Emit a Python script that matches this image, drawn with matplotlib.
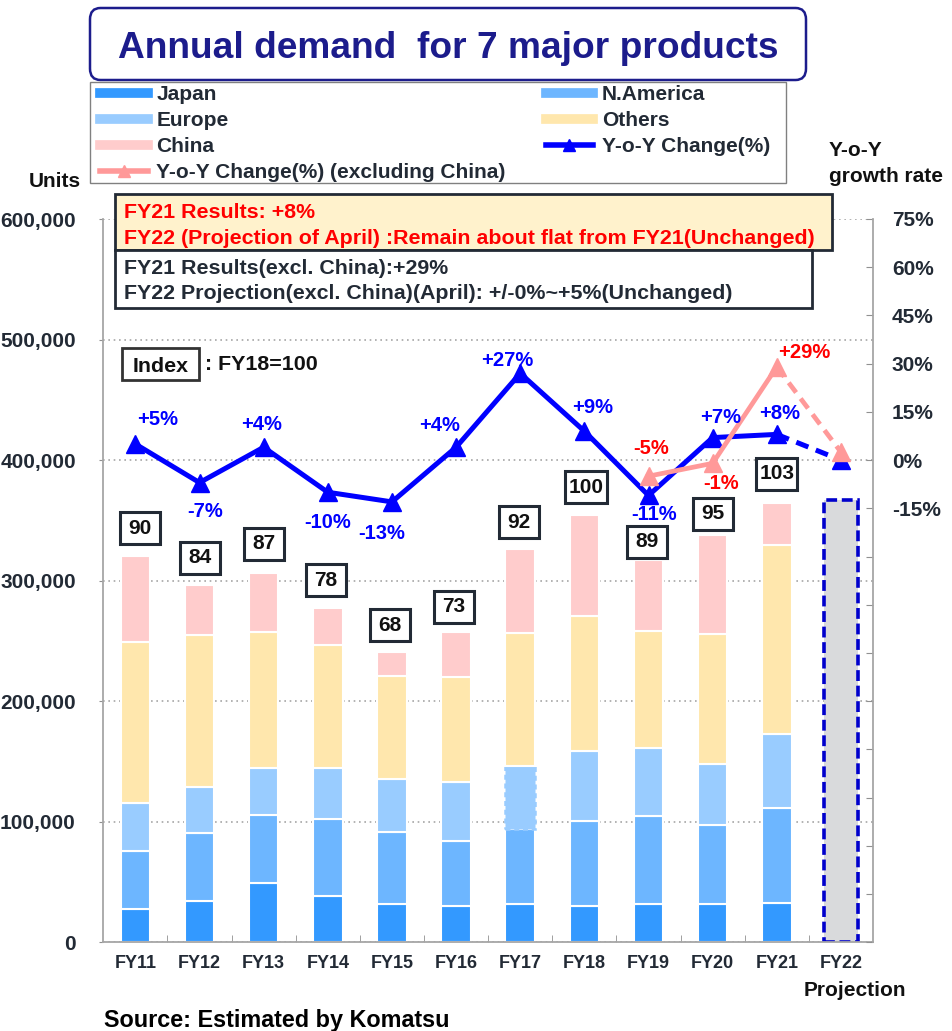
import matplotlib
matplotlib.use('Agg')
import matplotlib.pyplot as plt
from matplotlib.patches import Rectangle, FancyBboxPatch
from matplotlib.lines import Line2D
from matplotlib.path import Path
from matplotlib.ticker import FuncFormatter, FixedLocator
import numpy as np

plt.rcParams['font.family'] = ['Liberation Sans', 'DejaVu Sans']
plt.rcParams['font.weight'] = 'bold'

# ---------------- data ----------------
years = ['FY11', 'FY12', 'FY13', 'FY14', 'FY15', 'FY16', 'FY17', 'FY18',
         'FY19', 'FY20', 'FY21', 'FY22']
japan = [27400, 34500, 49000, 38700, 31500, 30100, 31800, 30400, 32000, 31800, 32400]
n_america = [48100, 56500, 56900, 63900, 60300, 54000, 62000, 70300, 72600, 65300, 78800]
europe = [40100, 37900, 39000, 41800, 43700, 48700, 52800, 58300, 56600, 50600, 61900]
others = [133400, 125900, 112400, 102100, 85200, 87600, 110100, 111500, 96900, 108200, 156600]
china = [71300, 41700, 49400, 30900, 20000, 36900, 69700, 84100, 58900, 82100, 35100]
projection_fy22 = 366500
index_fy18 = [90, 84, 87, 78, 68, 73, 92, 100, 89, 95, 103]
yoy = [5, -7, 4, -10, -13, 4, 27, 9, -11, 7, 8, 0]
yoy_ex_china_years = ['FY19', 'FY20', 'FY21', 'FY22']
yoy_ex_china = [-5, -1, 29, 2.5]

# ---------------- styles ----------------
W, H = 952, 1031
C_JP, C_NA, C_EU, C_OT, C_CN = '#3399FF', '#6DB6FF', '#99CCFF', '#FFE7AD', '#FFCCCC'
C_BLUE, C_PINK = '#0000FF', '#FF9999'
TXT = '#222A35'
GRID = '#A6A6A6'

def fx(x):
    return x / W

def fy(y):
    return 1 - y / H

fig = plt.figure(figsize=(W / 100, H / 100), dpi=100)
ax = fig.add_axes([fx(103.3), fy(942.3), (873 - 103.3) / W, (942.3 - 219) / H])
ax2 = ax.twinx()

x = np.arange(len(years))
xa = x[:len(japan)]
bw = 0.46
series = [(japan, C_JP), (n_america, C_NA), (europe, C_EU), (others, C_OT), (china, C_CN)]
bottom = np.zeros(len(japan))
containers = []
for vals, col in series:
    bc = ax.bar(xa, vals, bw, bottom=bottom, color=col, edgecolor='white',
                linewidth=1.5, zorder=2)
    containers.append(bc)
    bottom = bottom + np.array(vals)
totals = bottom
# FY17 Europe segment drawn with dotted outline
p = containers[2].patches[6]
p.set_edgecolor(C_EU)
p.set_linestyle((0, (2, 1.5)))
p.set_linewidth(1.8)

ax.bar(x[11], projection_fy22, 0.52, color='#D9DADC', edgecolor='#0000CC',
       linewidth=2.6, linestyle=(0, (3, 1.3)), zorder=2)

ax.set_xlim(-0.5, 11.5)
ax.set_ylim(0, 600000)
ax.set_yticks(np.arange(0, 600001, 100000))
ax.yaxis.set_major_formatter(FuncFormatter(lambda v, p: f'{int(v):,}'))
ax.yaxis.grid(True, linestyle=(0, (1, 2.2)), color=GRID, linewidth=1.2)
ax.set_axisbelow(True)
ax.set_xticks(x)
ax.set_xticklabels(years)
ax.xaxis.set_minor_locator(FixedLocator(np.arange(0.5, 11, 1)))
ax.tick_params(axis='x', which='major', length=0, pad=9.5, labelsize=13, labelcolor=TXT)
ax.tick_params(axis='x', which='minor', direction='in', length=5, color='#909090')
ax.tick_params(axis='y', direction='out', length=3, color='#909090', pad=16.8,
               labelsize=15, labelcolor=TXT)
for s in ['top', 'right']:
    ax.spines[s].set_visible(False)
for s in ['left', 'bottom']:
    ax.spines[s].set_color(GRID)
    ax.spines[s].set_linewidth(1.3)

ax2.set_ylim(-150, 75)
ax2.set_yticks(np.arange(-150, 76, 15))
ax2.yaxis.set_major_formatter(FuncFormatter(lambda v, p: f'{v:.0f}%' if v >= -15 else ''))
ax2.tick_params(axis='y', direction='in', length=5, color='#909090', pad=13.5,
                labelsize=15, labelcolor=TXT)
for s in ['top', 'left', 'bottom']:
    ax2.spines[s].set_visible(False)
ax2.spines['right'].set_color(GRID)
ax2.spines['right'].set_linewidth(1.3)

# YoY lines
ax2.plot(x[:11], yoy[:11], color=C_BLUE, lw=3.6, marker='^', ms=13, zorder=3)
ax2.plot(x[10:], yoy[10:], color=C_BLUE, lw=3.6, ls=(0, (2.6, 1.6)), zorder=3)
ax2.plot(x[11], yoy[11], color=C_BLUE, marker='^', ms=13, zorder=3)
ex_idx = [years.index(y) for y in yoy_ex_china_years]
ax2.plot(ex_idx[:3], yoy_ex_china[:3], color=C_PINK, lw=3.4, marker='^', ms=13, zorder=4)
ax2.plot(ex_idx[2:], yoy_ex_china[2:], color=C_PINK, lw=3.4, ls=(0, (2.6, 1.6)), zorder=4)
ax2.plot(ex_idx[3], yoy_ex_china[3], color=C_PINK, marker='^', ms=13, zorder=4)

# value labels for YoY
blue_off = [(16, 18), (4, -21), (-1.4, 16.2), (0, -22), (-7.3, -23), (-12, 15.8),
            (-9, 9), (6, 17.3), (4, -14), (6, 14.8), (2.2, 14.9)]
for i in range(11):
    ax2.annotate(f'{yoy[i]:+d}%', xy=(x[i], yoy[i]), xytext=blue_off[i],
                 textcoords='offset points', ha='center', va='center',
                 color=C_BLUE, fontsize=14.5, fontweight='bold', zorder=6)
pink_off = [(1.9, 19.7), (6.3, -14.7), (20, 10.3)]
for k in range(3):
    ax2.annotate(f'{yoy_ex_china[k]:+d}%', xy=(ex_idx[k], yoy_ex_china[k]),
                 xytext=pink_off[k], textcoords='offset points', ha='center',
                 va='center', color='#FF0000', fontsize=14.5, fontweight='bold', zorder=6)

# index boxes with fixed size
def fixed_box(x0, y0, width, height, mutation_size):
    cx, cy = x0 + width / 2, y0 + height / 2
    w = max(width + 0.3 * mutation_size, 1.92 * mutation_size)
    h = 1.54 * mutation_size
    verts = [(cx - w / 2, cy - h / 2), (cx + w / 2, cy - h / 2),
             (cx + w / 2, cy + h / 2), (cx - w / 2, cy + h / 2),
             (cx - w / 2, cy - h / 2)]
    return Path(verts, closed=True)

idx_off = [(3.6, 20.2), (0, 19.4), (0, 20.7), (-1.2, 19.8), (-1.4, 19.4), (-1.4, 18.2),
           (-1.2, 19.1), (1.2, 20), (-1.4, 13.4), (0, 15.3), (0, 20.6)]
for i in range(11):
    ax.annotate(str(index_fy18[i]), xy=(x[i], totals[i]), xytext=idx_off[i],
                textcoords='offset points', ha='center', va='center', fontsize=15,
                fontweight='bold', color='#111111', zorder=7,
                bbox=dict(boxstyle=fixed_box, fc='white', ec=TXT, lw=2.2))

# ---------------- title ----------------
fig.patches.append(FancyBboxPatch((fx(90), fy(80)), (806 - 90) / W, 72 / H,
                                  boxstyle='round,pad=0,rounding_size=0.011',
                                  fc='white', ec='#1C1C8C', lw=1.8,
                                  transform=fig.transFigure, figure=fig))
fig.text(fx(448), fy(49), 'Annual demand  for 7 major products', ha='center',
         va='center', fontsize=26.7, fontweight='bold', color='#1C1C8C')

# ---------------- legend ----------------
fig.patches.append(Rectangle((fx(90), fy(183)), 696 / W, 101 / H, fc='white',
                             ec='#808080', lw=1.0, transform=fig.transFigure, figure=fig))
handles = [Line2D([], [], color=C_JP, lw=7), Line2D([], [], color=C_EU, lw=7),
           Line2D([], [], color=C_CN, lw=7),
           Line2D([], [], color=C_PINK, lw=4, marker='^', ms=8),
           Line2D([], [], color=C_NA, lw=7), Line2D([], [], color=C_OT, lw=7),
           Line2D([], [], color=C_BLUE, lw=4, marker='^', ms=8)]
labels = ['Japan', 'Europe', 'China', 'Y-o-Y Change(%) (excluding China)',
          'N.America', 'Others', 'Y-o-Y Change(%)']
leg = fig.legend(handles, labels, loc='upper left', ncol=2, mode='expand',
                 bbox_to_anchor=(fx(100), fy(85), 670 / W, 0),
                 borderaxespad=0, frameon=False,
                 prop={'size': 15, 'weight': 'bold'},
                 handlelength=2.3, handletextpad=0.4, labelspacing=0.34,
                 borderpad=0, columnspacing=1.0, labelcolor=TXT)

# ---------------- side labels ----------------
fig.text(fx(81), fy(181.5), 'Units', ha='right', va='center', fontsize=15, color='#111111')
fig.text(fx(829), fy(150), 'Y-o-Y', ha='left', va='center', fontsize=15, color='#111111')
fig.text(fx(829), fy(177), 'growth rate', ha='left', va='center', fontsize=15, color='#111111')
fig.text(fx(855), fy(990), 'Projection', ha='center', va='center', fontsize=15, color='#111111')
fig.text(fx(104), fy(1020), 'Source: Estimated by Komatsu', ha='left', va='center',
         fontsize=16.8, color='#000000')

# ---------------- annotation boxes ----------------
fig.patches.append(Rectangle((fx(115), fy(250)), 717 / W, 55.7 / H, fc='#FFF2CC',
                             ec=TXT, lw=2, transform=fig.transFigure, figure=fig, zorder=5))
fig.patches.append(Rectangle((fx(115), fy(307.7)), 697 / W, 57.7 / H, fc='white',
                             ec=TXT, lw=2, transform=fig.transFigure, figure=fig, zorder=5))
fig.text(fx(124), fy(212.5), 'FY21 Results: +8%', ha='left', va='center',
         fontsize=15.4, color='#FF0000', zorder=6)
fig.text(fx(124), fy(238.5), 'FY22 (Projection of April) :Remain about flat from FY21(Unchanged)',
         ha='left', va='center', fontsize=15.4, color='#FF0000', zorder=6)
fig.text(fx(124), fy(269), 'FY21 Results(excl. China):+29%', ha='left', va='center',
         fontsize=15.4, color=TXT, zorder=6)
fig.text(fx(124), fy(293.5), 'FY22 Projection(excl. China)(April): +/-0%~+5%(Unchanged)',
         ha='left', va='center', fontsize=15.4, color=TXT, zorder=6)

fig.patches.append(Rectangle((fx(122.3), fy(380)), 77 / W, 31.7 / H, fc='white',
                             ec='#333333', lw=2, transform=fig.transFigure, figure=fig, zorder=5))
fig.text(fx(160.8), fy(366), 'Index', ha='center', va='center', fontsize=15.4,
         color='#111111', zorder=6)
fig.text(fx(205), fy(365), ': FY18=100', ha='left', va='center', fontsize=15.4,
         color='#111111', zorder=6)

fig.savefig('out.png', dpi=100)
